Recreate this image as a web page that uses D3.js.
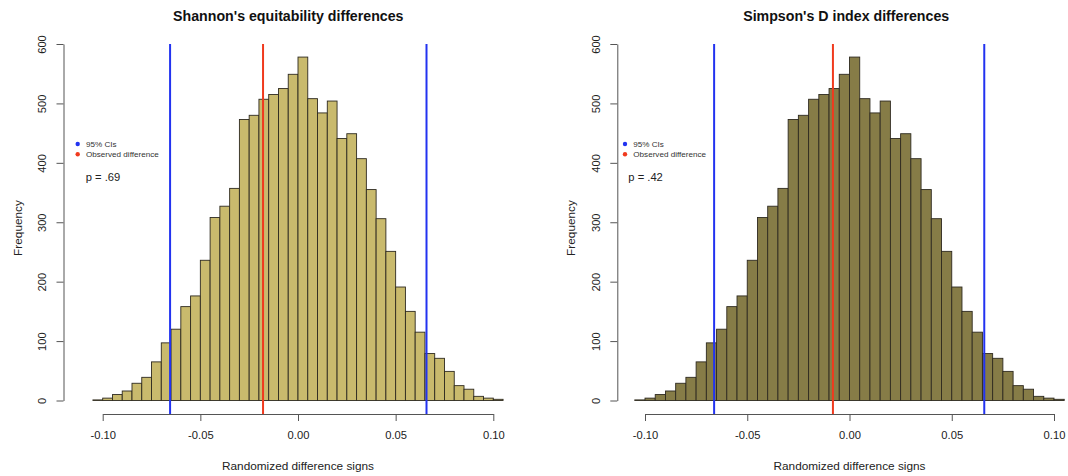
<!DOCTYPE html>
<html>
<head>
<meta charset="utf-8">
<script src="https://cdn.jsdelivr.net/npm/d3@7"></script>
<style>
  html, body { margin: 0; padding: 0; background: #fff; }
  svg { display: block; font-family: "Liberation Sans", Arial, Helvetica, sans-serif; }
</style>
</head>
<body>
<svg id="chart" width="1068" height="476"></svg>
<script>
// ---- data ----
const breaks = [-0.105, -0.100, -0.095, -0.090, -0.085, -0.080, -0.075, -0.070, -0.065, -0.060,
  -0.055, -0.050, -0.045, -0.040, -0.035, -0.030, -0.025, -0.020, -0.015, -0.010, -0.005,
  0.000, 0.005, 0.010, 0.015, 0.020, 0.025, 0.030, 0.035, 0.040, 0.045, 0.050, 0.055,
  0.060, 0.065, 0.070, 0.075, 0.080, 0.085, 0.090, 0.095, 0.100, 0.105];
const shannonCounts = [1, 4, 10, 16, 29, 39, 65, 97, 120, 158, 176, 236, 308, 327, 357, 473, 480, 507, 515, 525, 549,
  578, 508, 484, 504, 441, 449, 407, 355, 306, 251, 191, 150, 115, 79, 71, 49, 25, 19, 7, 4, 2];
const simpsonCounts = [1, 4, 10, 16, 29, 39, 65, 97, 120, 158, 176, 236, 308, 327, 357, 473, 480, 507, 515, 525, 549,
  578, 508, 484, 504, 441, 449, 407, 355, 306, 251, 191, 150, 115, 79, 71, 49, 25, 19, 7, 4, 2];
const xTicks = [-0.10, -0.05, 0.00, 0.05, 0.10];
const xTickLabels = ["-0.10", "-0.05", "0.00", "0.05", "0.10"];
const yTicks = [0, 100, 200, 300, 400, 500, 600];
const titles = ["Shannon's equitability differences", "Simpson's D index differences"];
const shannonCI = [-0.0655, 0.0658];
const simpsonCI = [-0.0662, 0.0659];
const observed = [-0.0179, -0.0081];
const pValues = ["p = .69", "p = .42"];
const legendLabels = ["95% CIs", "Observed difference"];
const xLabel = "Randomized difference signs";
const yLabel = "Frequency";

// ---- drawing ----
const svg = d3.select("#chart");

function drawPanel(p) {
  const g = svg.append("g");
  const x = d3.scaleLinear().domain([-0.1, 0.1]).range([p.x0, p.x1]);
  const y = d3.scaleLinear().domain([0, 600]).range([400.5, 44]);

  const bins = p.counts.map((c, i) => ({ a: breaks[i], b: breaks[i + 1], c }));

  // bars
  g.selectAll("rect.bar").data(bins).join("rect")
    .attr("class", "bar")
    .attr("x", d => x(d.a))
    .attr("width", d => x(d.b) - x(d.a))
    .attr("y", d => y(d.c))
    .attr("height", d => y(0) - y(d.c))
    .attr("fill", p.fill)
    .attr("stroke", "#2e2a20")
    .attr("stroke-width", 0.9);

  // vertical lines
  const lineTop = y(600), lineBot = y(-24);
  p.ci.forEach(v => {
    g.append("line").attr("x1", x(v)).attr("x2", x(v))
      .attr("y1", lineTop).attr("y2", lineBot)
      .attr("stroke", "#2233f0").attr("stroke-width", 2);
  });
  g.append("line").attr("x1", x(p.obs)).attr("x2", x(p.obs))
    .attr("y1", lineTop).attr("y2", lineBot)
    .attr("stroke", "#f03a1e").attr("stroke-width", 2);

  // x axis
  const xa = g.append("g").attr("transform", "translate(0,414)")
    .call(d3.axisBottom(x).tickValues(xTicks)
      .tickFormat((d, i) => xTickLabels[i]).tickSize(7).tickSizeOuter(0));
  xa.select(".domain").attr("stroke", "#555");
  xa.selectAll(".tick line").attr("stroke", "#555");
  xa.selectAll(".tick text").attr("font-size", 11.2).attr("fill", "#222").attr("dy", "1.35em")
    .attr("font-family", "Liberation Sans, Arial, sans-serif");

  // y axis
  const ya = g.append("g").attr("transform", `translate(${p.ax},0)`)
    .call(d3.axisLeft(y).tickValues(yTicks).tickSize(7).tickSizeOuter(0));
  ya.select(".domain").attr("stroke", "#555");
  ya.selectAll(".tick line").attr("stroke", "#555");
  ya.selectAll(".tick text").remove();
  ya.selectAll(".tick").append("text")
    .attr("transform", "translate(-21.5,0) rotate(-90)")
    .attr("text-anchor", "middle").attr("dy", "0.35em")
    .attr("font-size", 11.2).attr("fill", "#222")
    .text(d => d);

  // axis labels
  g.append("text").attr("x", x(0)).attr("y", 470)
    .attr("text-anchor", "middle").attr("font-size", 11.8).attr("fill", "#222")
    .text(xLabel);
  g.append("text").attr("transform", `translate(${p.ax - 46},228) rotate(-90)`)
    .attr("text-anchor", "middle").attr("dy", "0.35em").attr("font-size", 11.8).attr("fill", "#222")
    .text(yLabel);

  // title
  g.append("text").attr("x", p.tx).attr("y", 20.5)
    .attr("text-anchor", "middle").attr("font-size", 14.2).attr("font-weight", "bold").attr("fill", "#111")
    .text(p.title);

  // legend
  const legColors = ["#2233f0", "#f03a1e"];
  legendLabels.forEach((lab, i) => {
    const ly = 144 + i * 10.3;
    g.append("circle").attr("cx", p.lx).attr("cy", ly).attr("r", 2.2).attr("fill", legColors[i]);
    g.append("text").attr("x", p.lx + 8.3).attr("y", ly).attr("dy", "0.35em")
      .attr("font-size", 8.1).attr("fill", "#333").text(lab);
  });
  g.append("text").attr("x", p.px).attr("y", 177).attr("dy", "0.35em")
    .attr("font-size", 11.2).attr("fill", "#222").text(p.pval);
}

drawPanel({ x0: 102.7, x1: 493.3, ax: 63.5, tx: 288.3, lx: 77.7, px: 85.7,
  counts: shannonCounts, ci: shannonCI, obs: observed[0], fill: "#c9ba6d",
  title: titles[0], pval: pValues[0] });
drawPanel({ x0: 645, x1: 1054, ax: 617.3, tx: 846.2, lx: 625, px: 628.3,
  counts: simpsonCounts, ci: simpsonCI, obs: observed[1], fill: "#867c47",
  title: titles[1], pval: pValues[1] });
</script>
</body>
</html>
